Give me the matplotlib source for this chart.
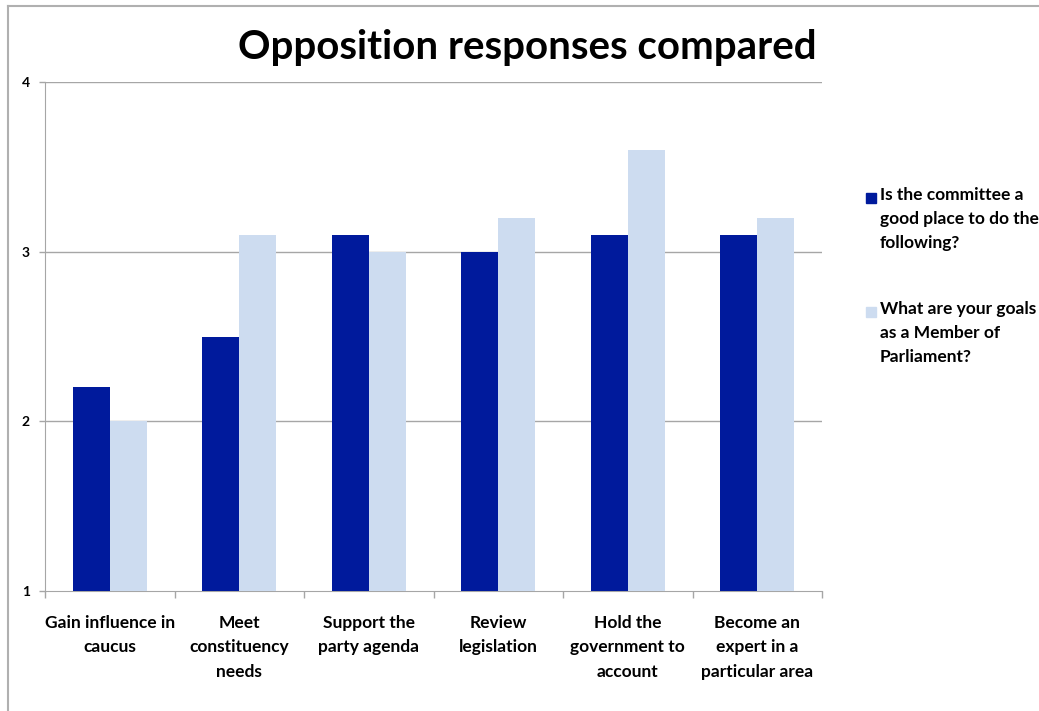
import numpy as np
import matplotlib
matplotlib.use("Agg")
import matplotlib.pyplot as plt
from matplotlib.lines import Line2D
from matplotlib.patches import Rectangle

plt.rcParams['font.family'] = ['Lato', 'DejaVu Sans']

categories = ["Gain influence in\ncaucus", "Meet\nconstituency\nneeds", "Support the\nparty agenda",
              "Review\nlegislation", "Hold the\ngovernment to\naccount", "Become an\nexpert in a\nparticular area"]
committee_place = [2.2, 2.5, 3.1, 3.0, 3.1, 3.1]
mp_goals = [2.0, 3.1, 3.0, 3.2, 3.6, 3.2]
series_names = ["Is the committee a\ngood place to do the\nfollowing?",
                "What are your goals\nas a Member of\nParliament?"]

dark = "#001a9c"
light = "#cddcf0"
grid = "#a6a6a6"

fig = plt.figure(figsize=(10.39, 7.11), dpi=100)
ax = fig.add_axes([45/1039, 1-591/711, (822-45)/1039, (591-82)/711])

x = np.arange(len(categories))
w = 0.285
ax.bar(x - w/2, np.array(committee_place) - 1, w, bottom=1, color=dark, zorder=3)
ax.bar(x + w/2, np.array(mp_goals) - 1, w, bottom=1, color=light, zorder=3)

ax.set_xlim(-0.5, len(categories) - 0.5)
ax.set_ylim(1, 4)
ax.set_yticks([1, 2, 3, 4])
ax.set_yticklabels(["1", "2", "3", "4"], fontsize=10, fontweight="bold")
for yv in [2, 3, 4]:
    ax.axhline(yv, color=grid, lw=1, zorder=1)

ax.set_xticks(x)
ax.set_xticklabels(categories, fontsize=12.5, fontweight="bold", linespacing=1.66, va="top")
ax.tick_params(axis="x", length=0, pad=17)
ax.set_xticks(np.arange(len(categories) + 1) - 0.5, minor=True)
ax.tick_params(axis="x", which="minor", length=5, color=grid, width=1)
ax.tick_params(axis="y", length=4, color=grid, width=1, pad=7)

for s in ["top", "right"]:
    ax.spines[s].set_visible(False)
ax.spines["left"].set_color(grid)
ax.spines["bottom"].set_color(grid)

fig.text(527/1039, 1-47/711, "Opposition responses compared", fontsize=29, fontweight="bold",
         ha="center", va="center")

# legend
for i, (name, col) in enumerate(zip(series_names, [dark, light])):
    ytop = 192 + i * 114
    fig.patches.append(Rectangle((866/1039, 1-(ytop+11)/711), 10/1039, 10/711,
                                 transform=fig.transFigure, color=col, figure=fig))
    fig.text(880/1039, 1-(ytop-5)/711, name, fontsize=12.5, fontweight="bold",
             ha="left", va="top", linespacing=1.6)

# outer frame lines
fig.add_artist(Line2D([8/1039, 8/1039], [0, 1-6/711], color="#b0b0b0", lw=1.5, transform=fig.transFigure))
fig.add_artist(Line2D([8/1039, 1], [1-6/711, 1-6/711], color="#b0b0b0", lw=1.5, transform=fig.transFigure))

fig.savefig("out.png", dpi=100)
